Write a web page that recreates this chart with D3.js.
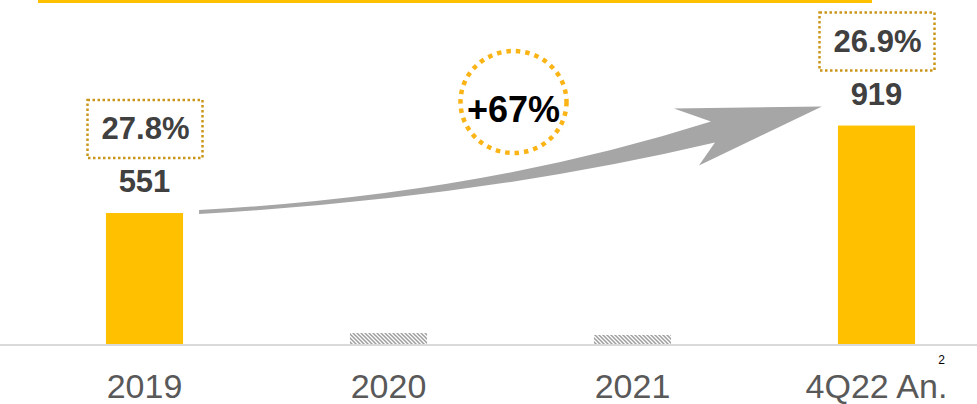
<!DOCTYPE html>
<html>
<head>
<meta charset="utf-8">
<script src="https://cdn.jsdelivr.net/npm/d3@7"></script>
<style>
  html, body { margin: 0; padding: 0; background: #fff; }
  svg { display: block; font-family: Arial, "Liberation Sans", sans-serif; }
</style>
</head>
<body>
<svg id="chart" width="977" height="404"></svg>
<script>
// Revenue by period, with margin per period where reported
const categories = ["2019", "2020", "2021", "4Q22 An."];
const values = [551, 46, 38, 919];
const margins = ["27.8%", null, null, "26.9%"];
const reported = [true, false, false, true];
const footnote = "2";

const W = 977, H = 404;
const svg = d3.select("#chart");

const baseY = 344;
const x = d3.scaleBand()
  .domain(categories)
  .range([22.5, 998.5])
  .paddingInner(0.684)
  .paddingOuter(0.342);

const y = d3.scaleLinear().domain([0, 1000]).range([baseY, 106.3]);

const gold = "#FFC000";

// hatch pattern for periods without reported figures
const defs = svg.append("defs");
const pat = defs.append("pattern")
  .attr("id", "hatch")
  .attr("patternUnits", "userSpaceOnUse")
  .attr("width", 4).attr("height", 4);
pat.append("rect").attr("width", 4).attr("height", 4).attr("fill", "#fff");
pat.append("path")
  .attr("d", "M-1,-1 L5,5 M-1,3 L1,5 M3,-1 L5,1")
  .attr("stroke", "#9E9E9E").attr("stroke-width", 1.5);

// top rule
svg.append("rect").attr("x", 38).attr("y", 0).attr("width", 834).attr("height", 3).attr("fill", gold);

// baseline
svg.append("rect").attr("x", 0).attr("y", baseY).attr("width", W).attr("height", 2).attr("fill", "#D9D9D9");

// bars
svg.append("g").selectAll("rect")
  .data(categories)
  .join("rect")
  .attr("x", d => x(d))
  .attr("width", x.bandwidth())
  .attr("y", (d, i) => y(values[i]))
  .attr("height", (d, i) => baseY - y(values[i]))
  .attr("fill", (d, i) => reported[i] ? gold : "url(#hatch)");

// category axis
const axis = d3.axisBottom(x).tickSize(0).tickPadding(0);
const gx = svg.append("g").attr("transform", `translate(0,${baseY})`).call(axis);
gx.select(".domain").remove();
gx.selectAll("text")
  .attr("y", 54).attr("dy", null)
  .attr("font-size", 34).attr("fill", "#595959")
  .attr("font-family", "Arial, 'Liberation Sans', sans-serif");

// footnote marker on the last category
const last = categories[categories.length - 1];
svg.append("text")
  .attr("x", x(last) + x.bandwidth() / 2 + 65)
  .attr("y", 364)
  .attr("font-size", 12).attr("fill", "#000").attr("text-anchor", "middle")
  .text(footnote);

// value labels and margin boxes
categories.forEach((c, i) => {
  if (!reported[i]) return;
  const cx = x(c) + x.bandwidth() / 2;
  const top = y(values[i]);
  svg.append("text")
    .attr("x", cx).attr("y", top - 21)
    .attr("text-anchor", "middle")
    .attr("font-size", 31).attr("font-weight", "bold").attr("fill", "#404040")
    .text(values[i]);
  const bt = top - 113;
  svg.append("rect")
    .attr("x", cx - 57).attr("y", bt).attr("width", 115).attr("height", 58)
    .attr("fill", "none").attr("stroke", "#C9961A")
    .attr("stroke-width", 2.5).attr("stroke-dasharray", "2.5 2.5");
  svg.append("text")
    .attr("x", cx + 1).attr("y", bt + 39)
    .attr("text-anchor", "middle")
    .attr("font-size", 31).attr("font-weight", "bold").attr("fill", "#404040")
    .text(margins[i]);
});

// growth arrow from the first to the last period
const a0 = x(categories[0]) + x.bandwidth() + 16;
const ay0 = y(values[0]) - 1;
const tipX = x(last) - 16;
const tipY = y(values[3]) - 19;
const p = d3.path();
p.moveTo(a0, ay0 - 2);
p.quadraticCurveTo(480, 195, tipX - 111, tipY + 15);
p.lineTo(tipX - 148, tipY + 2);
p.lineTo(tipX, tipY);
p.lineTo(tipX - 123, tipY + 59);
p.lineTo(tipX - 107, tipY + 36);
p.quadraticCurveTo(480, 198, a0, ay0 + 2);
p.closePath();
svg.append("path").attr("d", p.toString()).attr("fill", "#A6A6A6");

// growth callout
const growth = Math.round((values[3] / values[0] - 1) * 100);
const gcx = (x(categories[1]) + x(categories[2])) / 2 + x.bandwidth() / 2 + 3;
const gcy = 102;
svg.append("ellipse")
  .attr("cx", gcx).attr("cy", gcy).attr("rx", 53).attr("ry", 51)
  .attr("fill", "#fff").attr("stroke", "#FBB416")
  .attr("stroke-width", 4.5).attr("stroke-dasharray", "4.5 5");
svg.append("text")
  .attr("x", gcx).attr("y", gcy + 20)
  .attr("text-anchor", "middle")
  .attr("font-size", 36).attr("font-weight", "bold").attr("fill", "#000")
  .text(`+${growth}%`);
</script>
</body>
</html>
